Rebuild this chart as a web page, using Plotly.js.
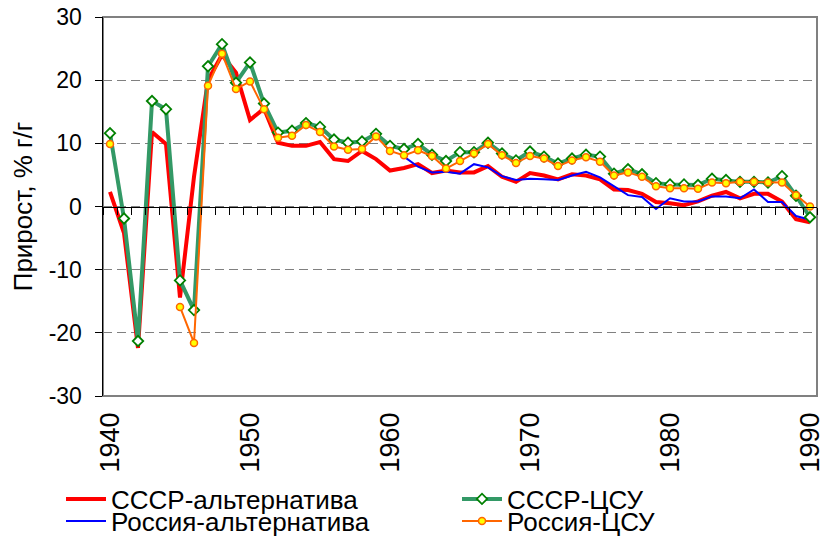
<!DOCTYPE html>
<html>
<head>
<meta charset="utf-8">
<script src="https://cdn.plot.ly/plotly-3.0.1.min.js"></script>
<style>html,body{margin:0;padding:0;background:#fff}#chart{width:821px;height:544px}</style>
</head>
<body>
<div id="chart"></div>
<script>
// Years (categories)
const years = [1940,1941,1942,1943,1944,1945,1946,1947,1948,1949,
  1950,1951,1952,1953,1954,1955,1956,1957,1958,1959,
  1960,1961,1962,1963,1964,1965,1966,1967,1968,1969,
  1970,1971,1972,1973,1974,1975,1976,1977,1978,1979,
  1980,1981,1982,1983,1984,1985,1986,1987,1988,1989,1990];

// СССР-альтернатива
const ussrAlt = [2.3,-4.2,-22.4,11.8,9.9,-14.4,4.7,20.0,24.0,21.2,
  13.7,15.5,10.1,9.6,9.6,10.2,7.5,7.2,8.8,7.5,
  5.7,6.1,6.7,5.3,5.7,5.4,5.4,6.4,4.7,3.9,
  5.3,4.9,4.3,5.1,4.9,4.3,2.7,2.6,2.0,0.7,
  0.5,0.2,0.8,1.7,2.3,1.3,2.0,2.0,0.8,-2.0,-2.5];

// Россия-альтернатива
const russiaAlt = [null,null,null,null,null,null,null,null,null,null,
  null,null,null,null,null,null,null,null,null,null,
  null,7.9,6.3,5.4,5.5,5.2,6.7,6.2,4.8,4.2,
  4.4,4.3,4.2,4.9,5.5,4.6,3.2,1.8,1.5,-0.4,
  1.3,0.8,0.8,1.6,1.6,1.3,2.7,0.7,0.7,-1.5,-2.1];

// СССР-ЦСУ
const ussrCsu = [11.6,-1.9,-21.3,16.7,15.4,-11.7,-16.4,22.2,25.7,19.6,
  22.8,16.3,11.7,12.0,13.2,12.6,10.6,10.1,10.3,11.5,
  9.6,9.1,9.9,8.2,7.2,8.6,8.6,10.1,8.4,7.3,
  8.7,7.9,6.8,7.6,8.2,7.9,5.2,5.9,5.1,3.7,
  3.5,3.5,3.4,4.4,4.2,3.9,3.9,3.8,4.8,1.7,-1.7];

// Россия-ЦСУ
const russiaCsu = [9.9,null,null,null,null,-15.9,-21.6,19.1,24.2,18.6,
  19.8,15.4,10.9,11.2,12.9,11.8,9.5,9.0,9.1,11.1,
  8.8,8.1,8.9,8.0,6.0,7.2,8.4,9.9,8.1,6.9,
  8.0,7.6,6.4,7.3,7.8,7.1,4.9,5.4,4.7,3.2,
  2.9,2.9,2.8,3.8,3.7,3.9,3.9,3.8,3.8,1.8,0.0];

const seriesNames = ['СССР-альтернатива','Россия-альтернатива','СССР-ЦСУ','Россия-ЦСУ'];
const xLabels = [1940,1950,1960,1970,1980,1990];
const yTicks = [-30,-20,-10,0,10,20,30];

const FONT = 'Liberation Sans, Arial, sans-serif';

// category boundary ticks on the zero axis
const boundaryTicks = [];
for (let i = 0; i <= years.length; i++) boundaryTicks.push(years[0] - 0.5 + i);
const xRange = [years[0] - 0.5, years[years.length - 1] + 0.5];

const traces = [
  {x: years, y: ussrAlt, name: seriesNames[0], type: 'scatter', mode: 'lines',
   line: {color: '#FF0000', width: 4}, legend: 'legend', connectgaps: false},
  {x: years, y: russiaAlt, name: seriesNames[1], type: 'scatter', mode: 'lines',
   line: {color: '#0000FF', width: 2}, legend: 'legend2', connectgaps: false},
  {x: years, y: ussrCsu, name: seriesNames[2], type: 'scatter', mode: 'lines+markers',
   line: {color: '#339966', width: 4},
   marker: {symbol: 'diamond', size: 8, color: '#FFFFFF', line: {color: '#008000', width: 1.8}},
   legend: 'legend3', connectgaps: false},
  {x: years, y: russiaCsu, name: seriesNames[3], type: 'scatter', mode: 'lines+markers',
   xaxis: 'x2',
   line: {color: '#FF6600', width: 2},
   marker: {symbol: 'circle', size: 7, color: '#FFFF00', line: {color: '#FF6600', width: 1.5}},
   legend: 'legend4', connectgaps: false}
];

function legendAt(xPx, yPx) {
  return {
    orientation: 'h', xref: 'container', yref: 'container',
    x: xPx / 821, y: 1 - yPx / 544, xanchor: 'left', yanchor: 'middle',
    itemwidth: 40,
    font: {family: FONT, size: 26, color: '#000'}, bgcolor: 'rgba(0,0,0,0)', borderwidth: 0
  };
}

const layout = {
  width: 821, height: 544,
  margin: {l: 103, r: 4, t: 17, b: 148},
  paper_bgcolor: '#FFFFFF', plot_bgcolor: '#FFFFFF',
  font: {family: FONT, size: 22, color: '#000000'},
  showlegend: true,
  xaxis: {
    range: xRange, tickmode: 'array', tickvals: xLabels, ticktext: xLabels.map(String),
    tickangle: -90, ticks: '', showgrid: false, zeroline: false, showline: false,
    ticklabelstandoff: 10, ticklabeloverflow: 'allow',
    tickfont: {family: FONT, size: 27, color: '#000'}
  },
  xaxis2: {
    overlaying: 'x', matches: 'x', anchor: 'free', position: 0.5,
    range: xRange, tickmode: 'array', tickvals: boundaryTicks,
    showticklabels: false, ticks: 'outside', ticklen: 7, tickcolor: '#000', tickwidth: 1,
    showline: true, linecolor: '#000', linewidth: 1.5, showgrid: false, zeroline: false
  },
  yaxis: {
    range: [-30, 30], tickmode: 'array', tickvals: yTicks, ticktext: yTicks.map(String),
    ticks: 'outside', ticklen: 7, tickcolor: '#000', tickwidth: 1,
    showline: true, linecolor: '#000', linewidth: 1.5,
    showgrid: true, gridcolor: '#808080', gridwidth: 1, griddash: '9px,5px',
    zeroline: false, ticklabelstandoff: 8,
    tickfont: {family: FONT, size: 23, color: '#000'},
    title: {text: 'Прирост, % г/г', font: {family: FONT, size: 26, color: '#000'}, standoff: 8}
  },
  shapes: [
    {type: 'rect', xref: 'paper', yref: 'paper', x0: 0, x1: 1, y0: 0, y1: 1,
     line: {color: '#808080', width: 2}, layer: 'below'}
  ],
  legend: legendAt(61, 499),
  legend2: legendAt(61, 521),
  legend3: legendAt(457, 499),
  legend4: legendAt(457, 521)
};

Plotly.newPlot('chart', traces, layout, {staticPlot: true, displayModeBar: false});
</script>
</body>
</html>
